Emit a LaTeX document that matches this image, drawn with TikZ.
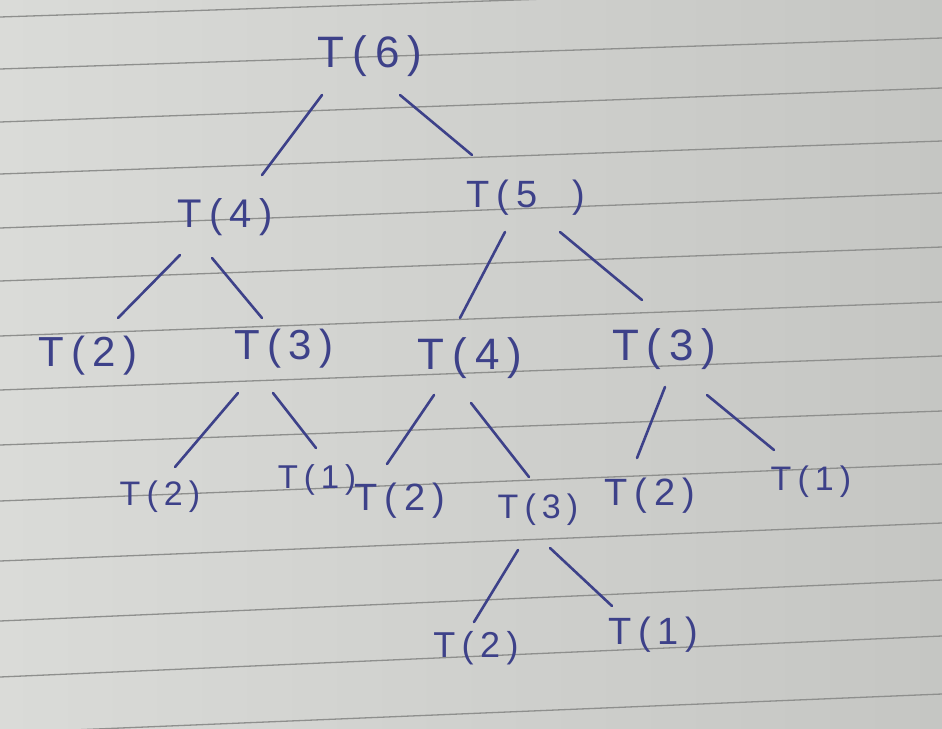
\documentclass[tikz,border=0pt]{standalone}
\usepackage{fontspec}
\newfontfamily\handfont[LetterSpace=18]{Liberation Sans}
\usetikzlibrary{calc}
\definecolor{ink}{HTML}{3D4189}
\definecolor{paperL}{HTML}{DADBD8}
\definecolor{paperR}{HTML}{C5C6C3}
\definecolor{rule}{HTML}{8E8F8D}
\begin{document}
\begin{tikzpicture}[x=1pt,y=-1pt,
  lbl/.style={text=ink,font=\handfont\fontsize{#1}{#1}\selectfont,inner sep=0pt},
  lbl/.default=42,
  edge/.style={draw=ink,line width=2.6pt,line cap=round},
  ruling/.style={draw=rule,line width=1.3pt}]
\useasboundingbox (0,0) rectangle (942,728);
\shade[left color=paperL,right color=paperR] (0,0) rectangle (942,728);
\foreach \a/\b in {17/-14,69/38,122/88,174/141,228/193,281/247,336/302,390/356,445/411,501/464,561/523,621/580,677/636,733/694}
  \draw[ruling] (0,\a) -- (942,\b);

% level 1
\node[lbl=44] (t6) at (370,56) {T(6)};
% level 2
\node[lbl=40] (t4a) at (225,217) {T(4)};
\node[lbl=38] (t5) at (526,198) {T(5\ \ )};
% level 3
\node[lbl=42] (t2a) at (88,356) {T(2)};
\node[lbl=42] (t3a) at (284,349) {T(3)};
\node[lbl=44] (t4b) at (470,358) {T(4)};
\node[lbl=44] (t3b) at (664,349) {T(3\,)};
% level 4
\node[lbl=34] (t2b) at (160,497) {T(2)};
\node[lbl=33] (t1a) at (317,480) {T(1)};
\node[lbl=38] (t2c) at (400,501) {T(2)};
\node[lbl=34] (t3c) at (538,510) {T(3)};
\node[lbl=38] (t2d) at (650,496) {T(2)};
\node[lbl=34] (t1b) at (811,482) {T(1)};
% level 5
\node[lbl=36] (t2e) at (476,648) {T(2)};
\node[lbl=38] (t1c) at (653,635) {T(1\,)};

% connectors
\draw[edge] ([shift={(-48,39)}]t6.center) -- ([shift={(37,-42)}]t4a.center);
\draw[edge] ([shift={(30,39)}]t6.center) -- ([shift={(-54,-43)}]t5.center);
\draw[edge] ([shift={(-45,38)}]t4a.center) -- ([shift={(30,-38)}]t2a.center);
\draw[edge] ([shift={(-13,41)}]t4a.center) -- ([shift={(-22,-31)}]t3a.center);
\draw[edge] ([shift={(-21,34)}]t5.center) -- ([shift={(-10,-40)}]t4b.center);
\draw[edge] ([shift={(34,34)}]t5.center) -- ([shift={(-22,-49)}]t3b.center);
\draw[edge] ([shift={(-46,44)}]t3a.center) -- ([shift={(15,-30)}]t2b.center);
\draw[edge] ([shift={(-11,44)}]t3a.center) -- ([shift={(-1,-32)}]t1a.center);
\draw[edge] ([shift={(-36,37)}]t4b.center) -- ([shift={(-13,-37)}]t2c.center);
\draw[edge] ([shift={(1,45)}]t4b.center) -- ([shift={(-9,-33)}]t3c.center);
\draw[edge] ([shift={(1,38)}]t3b.center) -- ([shift={(-13,-38)}]t2d.center);
\draw[edge] ([shift={(43,46)}]t3b.center) -- ([shift={(-37,-32)}]t1b.center);
\draw[edge] ([shift={(-20,40)}]t3c.center) -- ([shift={(-2,-26)}]t2e.center);
\draw[edge] ([shift={(12,38)}]t3c.center) -- ([shift={(-41,-29)}]t1c.center);
\end{tikzpicture}
\end{document}
